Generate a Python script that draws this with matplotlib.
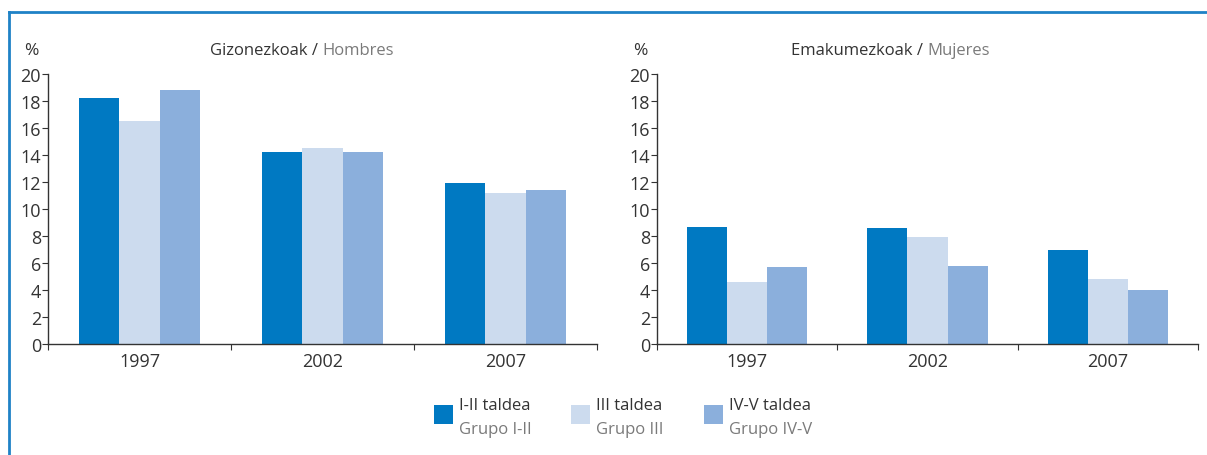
import matplotlib.pyplot as plt
from matplotlib.patches import Rectangle
from matplotlib.lines import Line2D
import numpy as np

years = ["1997", "2002", "2007"]
groups_eu = ["I-II taldea", "III taldea", "IV-V taldea"]
groups_es = ["Grupo I-II", "Grupo III", "Grupo IV-V"]
colors = ["#0079c2", "#ccdbee", "#8bafdc"]

# values per group (I-II, III, IV-V) for each year
men_12 = [18.2, 14.2, 11.9]
men_3 = [16.5, 14.5, 11.2]
men_45 = [18.8, 14.2, 11.4]
women_12 = [8.7, 8.6, 7.0]
women_3 = [4.6, 7.9, 4.8]
women_45 = [5.7, 5.8, 4.0]

plt.rcParams['font.family'] = ['Open Sans', 'DejaVu Sans']
dark = "#333333"
grey = "#7a7a7a"

fig = plt.figure(figsize=(12.07, 4.56), dpi=100)

# blue frame
fig.add_artist(Line2D([9 / 1207, 9 / 1207], [0, 1 - 13 / 456], color="#1f82c6", lw=2.0, transform=fig.transFigure))
fig.add_artist(Line2D([9 / 1207, 1], [1 - 13 / 456, 1 - 13 / 456], color="#1f82c6", lw=2.0, transform=fig.transFigure))


def draw_panel(rect, series, title_eu, title_es):
  ax = fig.add_axes(rect)
  x = np.arange(len(years)) + 0.5
  w = 0.222
  for i, vals in enumerate(series):
    ax.bar(x + (i - 1) * w, vals, width=w, color=colors[i], linewidth=0)
  ax.set_xlim(0, 3)
  ax.set_ylim(0, 20)
  ax.set_yticks(range(0, 21, 2))
  ax.set_xticks([0, 1, 2, 3])
  ax.set_xticklabels([])
  ax.set_xticks(x, minor=True)
  ax.set_xticklabels(years, minor=True)
  ax.tick_params(axis="x", which="minor", length=0, labelsize=13, colors=dark, pad=6)
  ax.tick_params(axis="x", which="major", length=4, width=0.8, color=dark)
  ax.tick_params(axis="y", length=4, width=0.8, labelsize=13, colors=dark, pad=1)
  for s in ["top", "right"]:
    ax.spines[s].set_visible(False)
  for s in ["left", "bottom"]:
    ax.spines[s].set_color(dark)
    ax.spines[s].set_linewidth(1.0)
  ax.text(-0.03, 1.09, "%", transform=ax.transAxes, fontsize=12.5, color=dark, ha="center", va="center")
  ax.text(0.5, 1.09, title_eu + " / ", transform=ax.transAxes, fontsize=12, color=dark, ha="right", va="center")
  ax.text(0.5, 1.09, title_es, transform=ax.transAxes, fontsize=12, color=grey, ha="left", va="center")
  return ax


draw_panel([48 / 1207, 1 - 345 / 456, 549 / 1207, 270 / 456],
           [men_12, men_3, men_45], "Gizonezkoak", "Hombres")
draw_panel([657 / 1207, 1 - 345 / 456, 541 / 1207, 270 / 456],
           [women_12, women_3, women_45], "Emakumezkoak", "Mujeres")

# legend
leg_x = [434, 571, 704]
for i in range(3):
  fig.add_artist(Rectangle((leg_x[i] / 1207, 1 - 425 / 456), 19 / 1207, 19 / 456,
                           color=colors[i], transform=fig.transFigure, lw=0))
  fig.text((leg_x[i] + 25) / 1207, 1 - 406 / 456, groups_eu[i], fontsize=12, color=dark, ha="left", va="center")
  fig.text((leg_x[i] + 25) / 1207, 1 - 430 / 456, groups_es[i], fontsize=12, color=grey, ha="left", va="center")

fig.savefig("out.png", dpi=100)
